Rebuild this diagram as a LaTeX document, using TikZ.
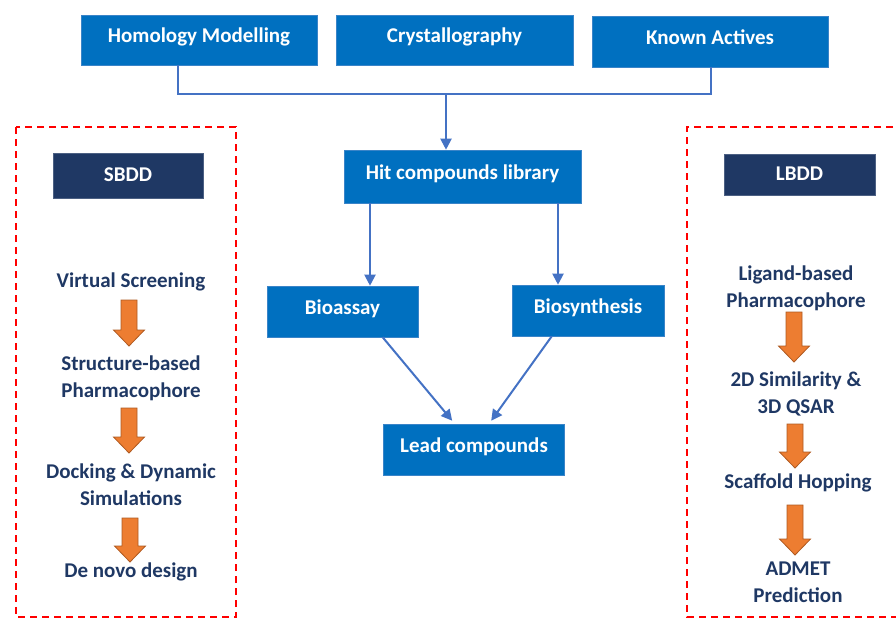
\documentclass[tikz,border=0pt]{standalone}
\usepackage{fontspec}
\setmainfont{Carlito}
\usetikzlibrary{arrows.meta,calc}

\definecolor{boxblue}{HTML}{0070C0}
\definecolor{boxedge}{HTML}{3A84C8}
\definecolor{navy}{HTML}{1F3864}
\definecolor{linkblue}{HTML}{4472C4}
\definecolor{flowor}{HTML}{ED7D31}
\definecolor{flowedge}{HTML}{AE5A21}

\tikzset{
  stage/.style={draw=boxedge, line width=0.6pt, fill=boxblue, text=white,
    font=\bfseries\fontsize{21}{25}\selectfont, inner sep=0pt,
    text height=14pt, text depth=9pt},
  tag/.style={stage, draw=navy!80, fill=navy, text depth=2pt},
  phase/.style={text=navy, font=\bfseries\fontsize{21}{27}\selectfont,
    align=center, inner sep=0pt, anchor=base},
  link/.style={draw=linkblue, line width=2pt},
  linkarr/.style={link, -{Triangle[length=11pt,width=11pt]}},
  zone/.style={draw=red, line width=1.6pt, dash pattern=on 7pt off 5pt},
  blockarr/.style={fill=flowor, draw=flowedge, line width=0.8pt, line join=miter},
}
% orange block arrow: x, top, length
\def\flowarrow(#1,#2,#3){\draw[blockarr] ({#1-8},#2) -- ({#1+8},#2) -- ({#1+8},{#2+#3-16}) -- ({#1+15.5},{#2+#3-16}) -- (#1,{#2+#3}) -- ({#1-15.5},{#2+#3-16}) -- ({#1-8},{#2+#3-16}) -- cycle;}

\begin{document}
\begin{tikzpicture}[x=1pt,y=-1pt]
  \useasboundingbox (0,0) rectangle (896,619);

  %%%%% sources %%%%%
  \node[stage, minimum width=236, minimum height=50] (homology) at (199,40) {Homology Modelling};
  \node[stage, minimum width=237, minimum height=50] (crystal) at (454.5,40) {Crystallography};
  \node[stage, minimum width=236, minimum height=51] (known) at (710,41.5) {Known Actives};

  %%%%% centre flow %%%%%
  \node[stage, minimum width=237, minimum height=53] (hit) at (462.5,176.5) {Hit compounds library};
  \node[stage, minimum width=151, minimum height=51] (bioassay) at (342.5,311.5) {Bioassay};
  \node[stage, minimum width=152, minimum height=51] (biosyn) at (588,310.5) {Biosynthesis};
  \node[stage, minimum width=181, minimum height=51] (lead) at (474,449.5) {Lead compounds};

  \coordinate (homdrop) at (178,94);
  \coordinate (busdrop) at (446,94);
  \coordinate (knowndrop) at (711,94);
  \draw[link] (homology.south -| homdrop) -- (homdrop) -- (knowndrop) -- (known.south -| knowndrop);
  \draw[linkarr] (busdrop) -- (hit.north -| busdrop);

  \coordinate (leftdrop) at (370,0);
  \coordinate (rightdrop) at (558,0);
  \draw[linkarr] (hit.south -| leftdrop) -- (bioassay.north -| leftdrop);
  \draw[linkarr] (hit.south -| rightdrop) -- (biosyn.north -| rightdrop);
  \draw[linkarr] ($(bioassay.south west)+(116,0)$) -- ($(lead.north west)+(69,-3)$);
  \draw[linkarr] ($(biosyn.south west)+(40,0)$) -- ($(lead.north west)+(108,-3)$);

  %%%%% SBDD %%%%%
  \draw[zone] (16,127) rectangle (236,617);
  \node[tag, minimum width=150, minimum height=45] (sbdd) at (128,175.5) {SBDD};
  \node[phase] (screen) at (131,287) {Virtual Screening};
  \node[phase] (sbpharm) at (131,397) {Structure-based\\Pharmacophore};
  \node[phase] (docking) at (131,505) {Docking \& Dynamic\\Simulations};
  \node[phase] (denovo) at (131,577) {De novo design};
  \flowarrow(129,300,46)
  \flowarrow(129,408,45)
  \flowarrow(130,518,44)

  %%%%% LBDD %%%%%
  \draw[zone] (905,127) -- (687,127) -- (687,617) -- (905,617);
  \node[tag, minimum width=151, minimum height=41] (lbdd) at (799.5,174.5) {LBDD};
  \node[phase] (lbpharm) at (796,307) {Ligand-based\\Pharmacophore};
  \node[phase] (similar) at (796,413) {2D Similarity \&\\3D QSAR};
  \node[phase] (scaffold) at (798,488) {Scaffold Hopping};
  \node[phase] (admet) at (798,602) {ADMET\\Prediction};
  \flowarrow(794,312,50)
  \flowarrow(795,424,44)
  \flowarrow(795,505,50)
\end{tikzpicture}
\end{document}
